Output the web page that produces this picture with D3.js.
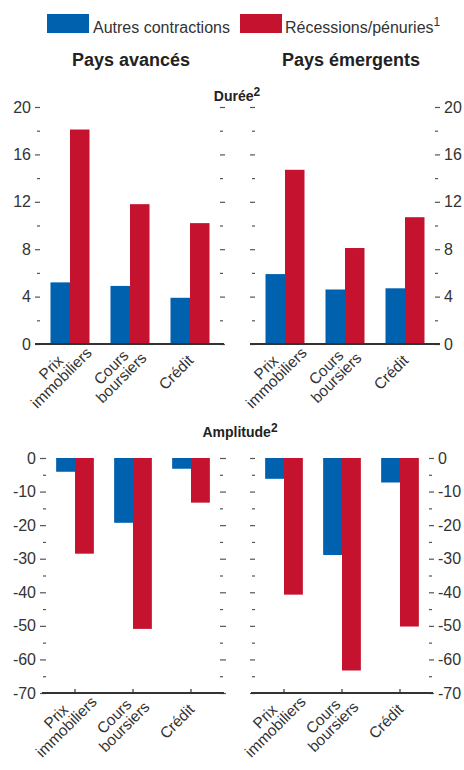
<!DOCTYPE html>
<html><head><meta charset="utf-8">
<script src="https://cdn.jsdelivr.net/npm/d3@7"></script>
<style>
html,body{margin:0;padding:0;background:#fff;}
text{font-family:"Liberation Sans",Arial,sans-serif;}
</style></head>
<body>
<script>
// ---- data ----
const categories = ["Prix immobiliers", "Cours boursiers", "Crédit"];
const categoryLines = [["Prix", "immobiliers"], ["Cours", "boursiers"], ["Crédit"]];
const seriesNames = ["Autres contractions", "Récessions/pénuries"];
const groupTitles = ["Pays avancés", "Pays émergents"];

const dureeAvancesAutres = [5.2, 4.9, 3.9];
const dureeAvancesRecessions = [18.1, 11.8, 10.2];
const dureeEmergentsAutres = [5.9, 4.6, 4.7];
const dureeEmergentsRecessions = [14.7, 8.1, 10.7];

const amplitudeAvancesAutres = [-4.1, -19.3, -3.2];
const amplitudeAvancesRecessions = [-28.5, -50.9, -13.3];
const amplitudeEmergentsAutres = [-6.2, -28.9, -7.3];
const amplitudeEmergentsRecessions = [-40.7, -63.3, -50.2];

const dureeTicks = [0, 4, 8, 12, 16, 20];
const dureeMinorTicks = [2, 6, 10, 14, 18];
const amplitudeTicks = [0, -10, -20, -30, -40, -50, -60, -70];
const amplitudeMinorTicks = [-5, -15, -25, -35, -45, -55, -65];

const colors = ["#0061AF", "#C4122F"];
const textColor = "#333";
const tickColor = "#555";

const W = 464, H = 770;
const svg = d3.select("body").append("svg").attr("width", W).attr("height", H);

// ---- legend ----
const legendItems = [{x: 47, tx: 93}, {x: 240, tx: 285}];
legendItems.forEach((l, i) => {
  svg.append("rect").attr("x", l.x).attr("y", 14).attr("width", 42).attr("height", 19).attr("fill", colors[i]);
  const t = svg.append("text").attr("x", l.tx).attr("y", 33).attr("font-size", 16).attr("fill", textColor).text(seriesNames[i]);
  if (i === 1) t.append("tspan").attr("font-size", 12).attr("dy", -7).text("1");
});

// ---- titles ----
[131, 351].forEach((cx, i) => {
  svg.append("text").attr("x", cx).attr("y", 66).attr("text-anchor", "middle")
    .attr("font-size", 18).attr("font-weight", "bold").attr("fill", "#222").text(groupTitles[i]);
});
function sectionTitle(txt, cx, y) {
  const t = svg.append("text").attr("x", cx).attr("y", y).attr("text-anchor", "middle")
    .attr("font-size", 14).attr("font-weight", "bold").attr("fill", "#222").text(txt);
  t.append("tspan").attr("font-size", 12).attr("dy", -5).text("2");
}
sectionTitle("Durée", 237, 101);
sectionTitle("Amplitude", 240, 437);

// ---- panels ----
function drawPanel(cfg, autres, recess) {
  const g = svg.append("g");
  const y = d3.scaleLinear().domain(cfg.domain).range([cfg.yBottom, cfg.yTop]);
  const x = d3.scaleBand().domain(categories).range([cfg.x0, cfg.x1]).paddingInner(0.35).paddingOuter(0.175);
  const xs = d3.scaleBand().domain(seriesNames).range([0, x.bandwidth()]);
  const rows = categories.map((c, i) => ({c, vals: [autres[i], recess[i]]}));

  // bars
  rows.forEach(r => {
    r.vals.forEach((v, j) => {
      g.append("rect")
        .attr("x", x(r.c) + xs(seriesNames[j]))
        .attr("width", xs.bandwidth())
        .attr("y", Math.min(y(0), y(v)))
        .attr("height", Math.abs(y(v) - y(0)))
        .attr("fill", colors[j]);
    });
  });

  const fmt = d => String(d);
  // axes on both sides
  const sides = [
    {pos: cfg.x0, gen: d3.axisLeft, labels: cfg.labelSide === "left"},
    {pos: cfg.x1, gen: d3.axisRight, labels: cfg.labelSide === "right"}
  ];
  sides.forEach(s => {
    const major = g.append("g").attr("transform", `translate(${s.pos},0)`)
      .call(s.gen(y).tickValues(cfg.ticks).tickSize(cfg.tickLen).tickPadding(cfg.pad)
        .tickFormat(s.labels ? fmt : () => ""));
    const minor = g.append("g").attr("transform", `translate(${s.pos},0)`)
      .call(s.gen(y).tickValues(cfg.minor).tickSize(3).tickFormat(() => ""));
    [major, minor].forEach(a => {
      a.select(".domain").remove();
      a.selectAll("line").attr("stroke", tickColor).attr("stroke-width", 1.2);
      a.selectAll("text").attr("font-size", 16).attr("fill", textColor)
        .attr("font-family", "'Liberation Sans',Arial,sans-serif");
    });
  });

  // baseline
  const by = y(cfg.domain[0]);
  g.append("line").attr("x1", cfg.lineX0).attr("x2", cfg.lineX1).attr("y1", by).attr("y2", by)
    .attr("stroke", "#333").attr("stroke-width", 1.8);
  if (cfg.catTicks) {
    categories.forEach(c => {
      const cx = x(c) + x.bandwidth() / 2;
      g.append("line").attr("x1", cx).attr("x2", cx).attr("y1", by).attr("y2", by - 4)
        .attr("stroke", "#333").attr("stroke-width", 1.2);
    });
  }

  // category labels
  categories.forEach((c, i) => {
    const cx = x(c) + x.bandwidth() / 2;
    const lg = g.append("g").attr("transform", `translate(${cx},${by}) rotate(-45)`);
    const lines = categoryLines[i];
    const n0 = 10.5 - (lines.length - 1) * 7;
    lines.forEach((ln, k) => {
      lg.append("text").attr("x", -30).attr("y", n0 + k * 14.5 + 5)
        .attr("text-anchor", "middle").attr("font-size", 15.5).attr("fill", textColor).text(ln);
    });
  });
}

const topDomain = [0, 20];
const botDomain = [-70, 0];
drawPanel({domain: topDomain, yBottom: 344, yTop: 107, x0: 40, x1: 220, lineX0: 35, lineX1: 224,
  ticks: dureeTicks, minor: dureeMinorTicks, tickLen: 5, pad: 4, labelSide: "left", catTicks: false},
  dureeAvancesAutres, dureeAvancesRecessions);
drawPanel({domain: topDomain, yBottom: 344, yTop: 107, x0: 255, x1: 435, lineX0: 250, lineX1: 440,
  ticks: dureeTicks, minor: dureeMinorTicks, tickLen: 5, pad: 4, labelSide: "right", catTicks: false},
  dureeEmergentsAutres, dureeEmergentsRecessions);
drawPanel({domain: botDomain, yBottom: 693, yTop: 458, x0: 46, x1: 220, lineX0: 42, lineX1: 224,
  ticks: amplitudeTicks, minor: amplitudeMinorTicks, tickLen: 6, pad: 4, labelSide: "left", catTicks: true},
  amplitudeAvancesAutres, amplitudeAvancesRecessions);
drawPanel({domain: botDomain, yBottom: 693, yTop: 458, x0: 255, x1: 429, lineX0: 251, lineX1: 433,
  ticks: amplitudeTicks, minor: amplitudeMinorTicks, tickLen: 5, pad: 4, labelSide: "right", catTicks: true},
  amplitudeEmergentsAutres, amplitudeEmergentsRecessions);
</script>
</body></html>
